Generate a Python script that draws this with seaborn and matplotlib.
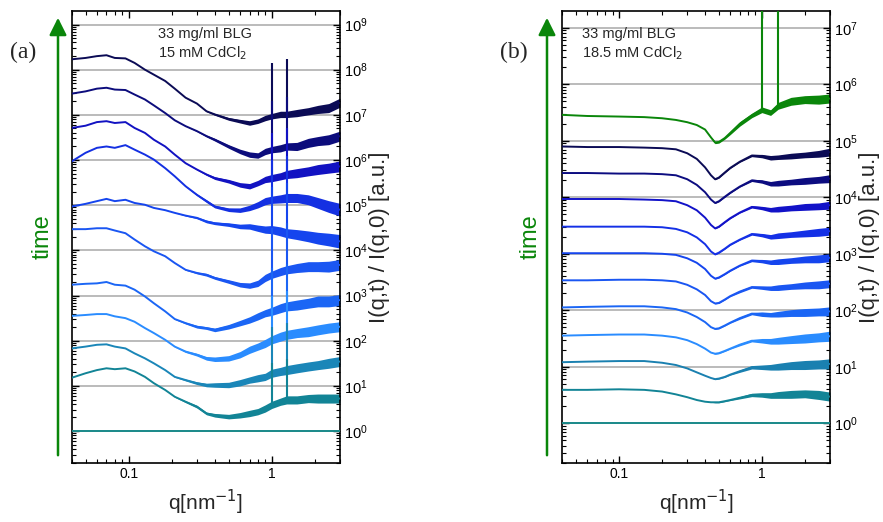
import numpy as np
import pandas as pd
import matplotlib
matplotlib.use("Agg")
import matplotlib.pyplot as plt
import matplotlib.ticker as mticker
import seaborn as sns

# -----------------------------
# Data (log10 of I(q,t)/I(q,0), curves shifted by decades)
# -----------------------------
q_a = [0.04, 0.05, 0.06, 0.07, 0.08, 0.095, 0.11, 0.13, 0.15, 0.18, 0.21, 0.25, 0.3, 0.35,
       0.4, 0.5, 0.6, 0.7, 0.8, 0.9, 1.0, 1.15, 1.27, 1.5, 1.8, 2.1, 2.5, 3.0]

a1 = [8.23, 8.26, 8.30, 8.32, 8.26, 8.25, 8.15, 8.00, 7.89, 7.75, 7.58, 7.38, 7.25, 7.08,
      7.01, 6.91, 6.86, 6.82, 6.86, 6.93, 6.97, 7.01, 7.01, 7.04, 7.08, 7.12, 7.15, 7.27]
a2 = [7.47, 7.52, 7.58, 7.60, 7.56, 7.55, 7.45, 7.34, 7.21, 7.04, 6.88, 6.75, 6.64, 6.53,
      6.45, 6.30, 6.19, 6.12, 6.10, 6.19, 6.23, 6.26, 6.30, 6.30, 6.38, 6.42, 6.45, 6.53]
a3 = [6.71, 6.76, 6.84, 6.86, 6.82, 6.84, 6.71, 6.60, 6.45, 6.30, 6.12, 5.93, 5.79, 5.68,
      5.60, 5.53, 5.45, 5.42, 5.49, 5.57, 5.60, 5.64, 5.68, 5.71, 5.75, 5.79, 5.82, 5.86]
a4 = [5.97, 6.16, 6.27, 6.30, 6.27, 6.33, 6.23, 6.12, 6.01, 5.82, 5.64, 5.42, 5.23, 5.09,
      4.97, 4.90, 4.89, 4.94, 5.01, 5.09, 5.12, 5.14, 5.16, 5.16, 5.12, 5.05, 4.97, 4.90]
a5 = [4.97, 5.03, 5.09, 5.14, 5.09, 5.12, 5.05, 5.01, 4.94, 4.89, 4.83, 4.77, 4.72, 4.64,
      4.60, 4.57, 4.53, 4.53, 4.49, 4.46, 4.46, 4.42, 4.38, 4.35, 4.31, 4.27, 4.24, 4.20]
a6 = [4.47, 4.47, 4.49, 4.49, 4.44, 4.38, 4.24, 4.09, 3.98, 3.87, 3.72, 3.57, 3.50, 3.46,
      3.39, 3.31, 3.24, 3.22, 3.27, 3.39, 3.46, 3.53, 3.57, 3.61, 3.64, 3.64, 3.64, 3.68]
a7 = [3.24, 3.26, 3.27, 3.30, 3.24, 3.22, 3.13, 2.98, 2.83, 2.65, 2.48, 2.39, 2.31, 2.28,
      2.24, 2.31, 2.39, 2.46, 2.54, 2.61, 2.65, 2.72, 2.76, 2.79, 2.83, 2.87, 2.87, 2.90]
a8 = [2.55, 2.57, 2.59, 2.59, 2.54, 2.50, 2.42, 2.28, 2.17, 2.02, 1.87, 1.76, 1.69, 1.61,
      1.59, 1.61, 1.69, 1.80, 1.87, 1.94, 2.02, 2.09, 2.13, 2.17, 2.20, 2.24, 2.28, 2.31]
a9 = [1.83, 1.87, 1.91, 1.92, 1.87, 1.83, 1.72, 1.61, 1.50, 1.35, 1.20, 1.13, 1.06, 1.02,
      1.02, 1.02, 1.07, 1.13, 1.17, 1.20, 1.28, 1.32, 1.35, 1.39, 1.43, 1.46, 1.50, 1.54]
a10 = [1.18, 1.28, 1.35, 1.39, 1.37, 1.39, 1.32, 1.20, 1.06, 0.91, 0.76, 0.65, 0.54, 0.39,
       0.35, 0.32, 0.35, 0.39, 0.43, 0.50, 0.58, 0.65, 0.69, 0.69, 0.72, 0.72, 0.72, 0.72]
a0 = [0.0] * len(q_a)

# half-width of the noise band (decades)
na1 = [0, 0, 0, 0, 0, 0, 0, 0, 0, 0, 0, 0, 0, 0.01, 0.02, 0.03, 0.04, 0.05, 0.05, 0.06,
       0.06, 0.07, 0.07, 0.08, 0.08, 0.09, 0.10, 0.10]
na2 = [0, 0, 0, 0, 0, 0, 0, 0, 0, 0, 0, 0, 0.01, 0.02, 0.03, 0.04, 0.05, 0.06, 0.06, 0.07,
       0.07, 0.08, 0.08, 0.09, 0.10, 0.10, 0.11, 0.11]
na3 = [0, 0, 0, 0, 0, 0, 0, 0, 0, 0, 0, 0, 0.01, 0.02, 0.03, 0.04, 0.05, 0.06, 0.06, 0.07,
       0.08, 0.08, 0.09, 0.10, 0.10, 0.11, 0.11, 0.12]
na4 = [0, 0, 0, 0, 0, 0, 0, 0, 0, 0, 0, 0.01, 0.02, 0.03, 0.03, 0.04, 0.05, 0.06, 0.07, 0.08,
       0.08, 0.09, 0.10, 0.10, 0.11, 0.12, 0.13, 0.14]
na5 = [0, 0, 0, 0, 0, 0, 0, 0, 0, 0, 0, 0.01, 0.02, 0.03, 0.03, 0.04, 0.05, 0.06, 0.07, 0.08,
       0.09, 0.10, 0.10, 0.11, 0.12, 0.13, 0.14, 0.15]
na6 = [0, 0, 0, 0, 0, 0, 0, 0, 0, 0, 0, 0.01, 0.02, 0.03, 0.03, 0.04, 0.05, 0.06, 0.07, 0.08,
       0.08, 0.09, 0.09, 0.10, 0.11, 0.11, 0.12, 0.12]
na7 = [0, 0, 0, 0, 0, 0, 0, 0, 0, 0, 0.01, 0.02, 0.03, 0.03, 0.04, 0.05, 0.06, 0.07, 0.08,
       0.08, 0.09, 0.10, 0.10, 0.11, 0.11, 0.12, 0.12, 0.12]
na8 = [0, 0, 0, 0, 0, 0, 0, 0, 0, 0, 0.01, 0.02, 0.03, 0.04, 0.05, 0.06, 0.07, 0.08, 0.08,
       0.09, 0.09, 0.10, 0.10, 0.10, 0.11, 0.11, 0.11, 0.11]
na9 = [0, 0, 0, 0, 0, 0, 0, 0, 0, 0, 0.01, 0.02, 0.03, 0.04, 0.05, 0.06, 0.07, 0.07, 0.08,
       0.08, 0.09, 0.09, 0.10, 0.10, 0.10, 0.10, 0.11, 0.11]
na10 = [0, 0, 0, 0, 0, 0, 0, 0, 0, 0, 0.01, 0.02, 0.03, 0.03, 0.04, 0.05, 0.06, 0.07, 0.07,
        0.08, 0.08, 0.08, 0.09, 0.09, 0.09, 0.10, 0.10, 0.10]
na0 = [0.0] * len(q_a)

spike_q_a = [1.0, 1.27]
spike_top_a = [[8.15, 8.23], [7.30, 7.40], [6.60, 6.70], [6.00, 6.10], [5.40, 5.50],
               [4.50, 4.60], [3.60, 3.70], [3.00, 3.10], [2.30, 2.40], [1.50, 1.60], None]

colors_a = ["#0b0b55", "#0c0c7c", "#1212c2", "#1430e2", "#1545ee", "#1a56f2",
            "#1b66f5", "#2a8cff", "#1a86b8", "#128496", "#1a8a8a"]

q_b = [0.04, 0.06, 0.1, 0.15, 0.2, 0.25, 0.3, 0.35, 0.4, 0.44, 0.47, 0.5, 0.55, 0.6,
       0.7, 0.85, 1.0, 1.15, 1.3, 1.6, 2.0, 2.5, 3.0]

bg = [5.46, 5.44, 5.43, 5.42, 5.40, 5.37, 5.33, 5.28, 5.20, 5.06, 4.97, 4.98, 5.05, 5.14,
      5.30, 5.45, 5.55, 5.50, 5.62, 5.70, 5.73, 5.73, 5.75]
b1 = [4.90, 4.89, 4.89, 4.88, 4.87, 4.85, 4.78, 4.68, 4.53, 4.39, 4.32, 4.35, 4.44, 4.52,
      4.63, 4.74, 4.73, 4.70, 4.71, 4.73, 4.75, 4.77, 4.80]
b2 = [4.43, 4.43, 4.42, 4.42, 4.41, 4.39, 4.32, 4.22, 4.09, 3.96, 3.90, 3.93, 4.01, 4.08,
      4.19, 4.30, 4.28, 4.24, 4.25, 4.27, 4.29, 4.31, 4.33]
b3 = [3.97, 3.97, 3.97, 3.96, 3.95, 3.93, 3.86, 3.77, 3.64, 3.51, 3.45, 3.48, 3.56, 3.63,
      3.73, 3.83, 3.81, 3.78, 3.79, 3.81, 3.83, 3.84, 3.86]
b4 = [3.48, 3.48, 3.48, 3.48, 3.47, 3.44, 3.38, 3.29, 3.17, 3.04, 2.99, 3.02, 3.09, 3.16,
      3.25, 3.35, 3.33, 3.30, 3.32, 3.34, 3.36, 3.38, 3.40]
b5 = [3.01, 3.01, 3.01, 3.01, 3.00, 2.98, 2.92, 2.84, 2.73, 2.61, 2.56, 2.58, 2.64, 2.70,
      2.79, 2.88, 2.87, 2.85, 2.86, 2.88, 2.90, 2.91, 2.93]
b6 = [2.53, 2.53, 2.54, 2.54, 2.53, 2.51, 2.45, 2.37, 2.27, 2.16, 2.12, 2.13, 2.19, 2.25,
      2.33, 2.41, 2.40, 2.39, 2.40, 2.42, 2.44, 2.45, 2.47]
b7 = [2.05, 2.06, 2.07, 2.07, 2.05, 2.02, 1.96, 1.88, 1.79, 1.70, 1.67, 1.68, 1.73, 1.78,
      1.86, 1.94, 1.93, 1.92, 1.93, 1.95, 1.96, 1.97, 1.98]
b8 = [1.55, 1.56, 1.57, 1.57, 1.55, 1.52, 1.47, 1.40, 1.32, 1.25, 1.23, 1.24, 1.28, 1.32,
      1.39, 1.46, 1.46, 1.45, 1.46, 1.48, 1.50, 1.52, 1.54]
b9 = [1.08, 1.09, 1.10, 1.10, 1.07, 1.03, 0.97, 0.90, 0.84, 0.80, 0.78, 0.79, 0.82, 0.86,
      0.92, 0.99, 0.99, 0.99, 1.00, 1.02, 1.03, 1.04, 1.05]
b10 = [0.59, 0.59, 0.60, 0.59, 0.56, 0.51, 0.46, 0.41, 0.38, 0.37, 0.37, 0.37, 0.39, 0.41,
       0.45, 0.50, 0.50, 0.49, 0.50, 0.51, 0.52, 0.50, 0.47]
b0 = [0.0] * len(q_b)

nbg = [0, 0, 0, 0, 0, 0, 0, 0, 0, 0.01, 0.02, 0.02, 0.02, 0.03, 0.04, 0.04, 0.05, 0.05,
       0.06, 0.07, 0.07, 0.08, 0.08]
nb1 = [0, 0, 0, 0, 0, 0, 0, 0, 0, 0, 0.01, 0.01, 0.01, 0.01, 0.01, 0.02, 0.03, 0.04, 0.04,
       0.05, 0.05, 0.06, 0.07]
nb2 = [0, 0, 0, 0, 0, 0, 0, 0, 0, 0, 0.01, 0.01, 0.01, 0.01, 0.01, 0.02, 0.03, 0.04, 0.05,
       0.05, 0.06, 0.06, 0.07]
nb3 = [0, 0, 0, 0, 0, 0, 0, 0, 0, 0, 0.01, 0.01, 0.01, 0.01, 0.01, 0.02, 0.03, 0.04, 0.05,
       0.05, 0.06, 0.06, 0.07]
nb4 = [0, 0, 0, 0, 0, 0, 0, 0, 0, 0, 0.01, 0.01, 0.01, 0.01, 0.01, 0.02, 0.03, 0.04, 0.05,
       0.05, 0.06, 0.07, 0.07]
nb5 = [0, 0, 0, 0, 0, 0, 0, 0, 0, 0, 0.01, 0.01, 0.01, 0.01, 0.01, 0.02, 0.03, 0.04, 0.05,
       0.05, 0.06, 0.07, 0.07]
nb6 = [0, 0, 0, 0, 0, 0, 0, 0, 0, 0, 0.01, 0.01, 0.01, 0.01, 0.02, 0.02, 0.03, 0.04, 0.05,
       0.05, 0.06, 0.07, 0.07]
nb7 = [0, 0, 0, 0, 0, 0, 0, 0, 0, 0, 0.01, 0.01, 0.01, 0.01, 0.02, 0.02, 0.04, 0.04, 0.05,
       0.06, 0.07, 0.07, 0.08]
nb8 = [0, 0, 0, 0, 0, 0, 0, 0, 0, 0, 0.01, 0.01, 0.01, 0.01, 0.02, 0.02, 0.04, 0.05, 0.06,
       0.07, 0.08, 0.08, 0.09]
nb9 = [0, 0, 0, 0, 0, 0, 0, 0, 0, 0, 0.01, 0.01, 0.01, 0.01, 0.02, 0.03, 0.04, 0.05, 0.06,
       0.07, 0.08, 0.08, 0.09]
nb10 = [0, 0, 0, 0, 0, 0, 0, 0, 0, 0, 0.01, 0.01, 0.01, 0.01, 0.02, 0.03, 0.04, 0.05, 0.06,
        0.07, 0.07, 0.08, 0.08]
nb0 = [0.0] * len(q_b)

spike_q_b = [1.0, 1.3]
spike_top_b = [[8.0, 8.0], None, None, None, None, None, None, None, None, None, None, None]

colors_b = ["#0a860a", "#0b0b55", "#0c0c80", "#1212c8", "#1430e6", "#1545ee", "#1a56f2",
            "#1b66f5", "#2a8cff", "#1a80b0", "#128496", "#1a8a8a"]

decades_a = [0, 1, 2, 3, 4, 5, 6, 7, 8, 9]
decades_b = [0, 1, 2, 3, 4, 5, 6, 7]

curves_a = [a1, a2, a3, a4, a5, a6, a7, a8, a9, a10, a0]
noise_a = [na1, na2, na3, na4, na5, na6, na7, na8, na9, na10, na0]
curves_b = [bg, b1, b2, b3, b4, b5, b6, b7, b8, b9, b10, b0]
noise_b = [nbg, nb1, nb2, nb3, nb4, nb5, nb6, nb7, nb8, nb9, nb10, nb0]

GREEN = "#0a860a"

sns.set_style("ticks")
plt.rcParams["font.family"] = ["Liberation Sans", "DejaVu Sans"]
plt.rcParams["axes.linewidth"] = 1.2


def draw_panel(ax, q, curves, noise, colors, spike_q, spike_top, decades, text, text_x):
    rows = []
    for i, (vals, nw) in enumerate(zip(curves, noise)):
        for qq, v, w in zip(q, vals, nw):
            rows.append({"curve": i, "q": qq, "I": 10 ** v,
                         "lo": 10 ** (v - w), "hi": 10 ** (v + w)})
    df = pd.DataFrame(rows)

    # noise bands first, then the curves
    for i, sub in df.groupby("curve"):
        ax.fill_between(sub["q"], sub["lo"], sub["hi"], color=colors[i], lw=0, zorder=2)
    sns.lineplot(data=df, x="q", y="I", hue="curve", palette=colors, legend=False,
                 estimator=None, sort=False, lw=1.4, ax=ax, zorder=3)

    # sharp peaks at fixed q
    for i, tops in enumerate(spike_top):
        if tops is None:
            continue
        sub = df[df["curve"] == i]
        for sq, top in zip(spike_q, tops):
            base = sub.loc[np.isclose(sub["q"], sq), "I"].iloc[0]
            ax.vlines(sq, base, 10 ** top, color=colors[i], lw=1.5, zorder=3)

    major = [10.0 ** d for d in decades]
    minor = [m * 10.0 ** d for d in [-1] + decades for m in range(2, 10)]
    ax.set(xscale="log", yscale="log", xlim=(0.04, 3),
           ylim=(10 ** -0.7, 10 ** (decades[-1] + 0.3)))
    ax.yaxis.set_major_locator(mticker.FixedLocator(major))
    ax.yaxis.set_major_formatter(mticker.FixedFormatter(
        ["$\\mathdefault{10^{%d}}$" % d for d in decades]))
    ax.yaxis.set_minor_locator(mticker.FixedLocator(minor))
    ax.yaxis.set_minor_formatter(mticker.NullFormatter())
    ax.xaxis.set_major_locator(mticker.FixedLocator([0.1, 1]))
    ax.xaxis.set_major_formatter(mticker.FixedFormatter(["0.1", "1"]))
    ax.xaxis.set_minor_formatter(mticker.NullFormatter())
    ax.yaxis.grid(True, which="major", color="#a8a8a8", lw=1.1, zorder=1)
    ax.yaxis.tick_right()
    ax.yaxis.set_label_position("right")
    ax.tick_params(which="both", direction="in", left=True, right=True, top=True,
                   bottom=True, labelleft=False, labelright=True, colors="black")
    ax.tick_params(which="major", length=5, width=1, labelsize=10.5, pad=3)
    ax.tick_params(which="minor", length=3, width=0.8)
    ax.tick_params(axis="x", labelsize=10)
    ax.set_xlabel("q[nm$^{-1}$]", fontsize=15, labelpad=5)
    ax.set_ylabel("I(q,t) / I(q,0) [a.u.]", fontsize=16, labelpad=1)
    ax.text(text_x, 0.965, text, transform=ax.transAxes, fontsize=10.5, va="top",
            linespacing=1.3)
    for s in ax.spines.values():
        s.set_color("black")


fig = plt.figure(figsize=(8.83, 5.22), dpi=100)
ax_a = fig.add_axes([0.0812, 0.1136, 0.3039, 0.8654])
ax_b = fig.add_axes([0.6368, 0.1136, 0.3032, 0.8654])

draw_panel(ax_a, q_a, curves_a, noise_a, colors_a, spike_q_a, spike_top_a, decades_a,
           "33 mg/ml BLG\n15 mM CdCl$_2$", 0.32)
draw_panel(ax_b, q_b, curves_b, noise_b, colors_b, spike_q_b, spike_top_b, decades_b,
           "33 mg/ml BLG\n18.5 mM CdCl$_2$", 0.075)

# panel labels and "time" arrows
for xl, xa, xt, lab in [(10, 58, 43, "(a)"), (500, 547, 531, "(b)")]:
    fig.text(xl / 883, 1 - 52 / 522, lab, fontsize=17, family="Liberation Serif",
             va="center", ha="left")
    fig.add_artist(matplotlib.patches.FancyArrowPatch(
        (xa / 883, 1 - 458 / 522), (xa / 883, 1 - 15 / 522), transform=fig.transFigure,
        arrowstyle="-|>", mutation_scale=26, color=GREEN, lw=1.8))
    fig.text(xt / 883, 1 - 237 / 522, "time", fontsize=17, color=GREEN, rotation=90,
             va="center", ha="center")

plt.savefig("out.png", dpi=100)
plt.close()
